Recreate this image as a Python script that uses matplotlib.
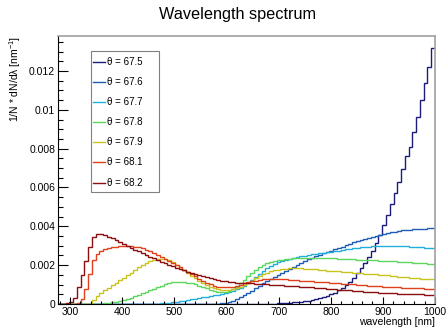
import numpy as np
import matplotlib
matplotlib.use("Agg")
import matplotlib.pyplot as plt
from matplotlib.lines import Line2D
from matplotlib.patches import Rectangle
from matplotlib.ticker import MultipleLocator

plt.rcParams['font.family'] = ['Liberation Sans', 'DejaVu Sans']
plt.rcParams['mathtext.fontset'] = 'custom'
plt.rcParams['mathtext.rm'] = 'Liberation Sans'
plt.rcParams['mathtext.it'] = 'Liberation Sans:italic'

# ---- data (values in units of 1e-3 nm^-1), 100 bins from 277 to 1000 nm ----
lam_min, lam_max, n_bins = 277.0, 1000.0, 100

labels = ["θ = 67.5", "θ = 67.6", "θ = 67.7", "θ = 67.8", "θ = 67.9", "θ = 68.1", "θ = 68.2"]

t675 = ([0.0] * 50 +
        [0, 0, 0.005, 0.01, 0.01, 0.015, 0.02, 0.025, 0.03, 0.04] +
        [0.05, 0.06, 0.08, 0.10, 0.12, 0.15, 0.18, 0.21, 0.25, 0.30] +
        [0.35, 0.42, 0.50, 0.58, 0.70, 0.84, 0.98, 1.12, 1.32, 1.58] +
        [1.85, 2.12, 2.42, 2.75, 3.12, 3.55, 4.05, 4.60, 5.15, 5.70] +
        [6.30, 6.95, 7.60, 8.10, 8.88, 9.65, 10.5, 11.4, 12.2, 13.2])

t676 = ([0.0] * 40 +
        [0, 0.01, 0.02, 0.04, 0.07, 0.11, 0.17, 0.25, 0.34, 0.44] +
        [0.55, 0.67, 0.80, 0.93, 1.06, 1.18, 1.30, 1.40, 1.50, 1.60] +
        [1.70, 1.80, 1.90, 2.00, 2.10, 2.20, 2.30, 2.38, 2.46, 2.54] +
        [2.61, 2.68, 2.75, 2.82, 2.89, 2.96, 3.03, 3.10, 3.17, 3.24] +
        [3.30, 3.36, 3.42, 3.47, 3.52, 3.57, 3.62, 3.66, 3.70, 3.73] +
        [3.76, 3.79, 3.81, 3.83, 3.85, 3.86, 3.87, 3.88, 3.89, 3.90])

t677 = ([0.0] * 20 +
        [0, 0, 0, 0, 0, 0, 0.02, 0.03, 0.05, 0.07] +
        [0.10, 0.12, 0.15, 0.18, 0.21, 0.24, 0.27, 0.31, 0.34, 0.38] +
        [0.41, 0.45, 0.48, 0.52, 0.57, 0.62, 0.68, 0.75, 0.84, 0.95] +
        [1.08, 1.22, 1.38, 1.55, 1.70, 1.84, 1.96, 2.06, 2.15, 2.22] +
        [2.28, 2.33, 2.38, 2.42, 2.46, 2.49, 2.52, 2.55, 2.58, 2.61] +
        [2.64, 2.66, 2.69, 2.72, 2.75, 2.78, 2.81, 2.84, 2.87, 2.90] +
        [2.92, 2.94, 2.96, 2.98, 2.99, 3.00, 3.01, 3.01, 3.01, 3.00] +
        [2.99, 2.98, 2.97, 2.96, 2.94, 2.93, 2.91, 2.90, 2.88, 2.87])

t678 = ([0.0] * 10 +
        [0.01, 0.02, 0.03, 0.05, 0.08, 0.12, 0.16, 0.21, 0.27, 0.33] +
        [0.40, 0.47, 0.55, 0.63, 0.71, 0.79, 0.87, 0.94, 1.01, 1.07] +
        [1.11, 1.13, 1.13, 1.12, 1.10, 1.06, 1.01, 0.95, 0.88, 0.81] +
        [0.74, 0.68, 0.64, 0.62, 0.63, 0.68, 0.77, 0.90, 1.06, 1.24] +
        [1.42, 1.60, 1.76, 1.90, 2.01, 2.10, 2.17, 2.22, 2.26, 2.29] +
        [2.32, 2.34, 2.36, 2.37, 2.38, 2.38, 2.38, 2.38, 2.38, 2.37] +
        [2.37, 2.36, 2.36, 2.35, 2.34, 2.33, 2.32, 2.31, 2.30, 2.29] +
        [2.28, 2.27, 2.26, 2.25, 2.24, 2.23, 2.22, 2.21, 2.20, 2.19] +
        [2.18, 2.16, 2.15, 2.14, 2.13, 2.12, 2.10, 2.09, 2.07, 2.06])

t679 = ([0, 0, 0, 0, 0, 0, 0, 0, 0.02, 0.22] +
        [0.40, 0.55, 0.70, 0.84, 0.97, 1.10, 1.23, 1.36, 1.49, 1.62] +
        [1.75, 1.88, 2.00, 2.10, 2.19, 2.27, 2.32, 2.34, 2.32, 2.26] +
        [2.14, 2.02, 1.88, 1.74, 1.60, 1.46, 1.32, 1.19, 1.07, 0.97] +
        [0.88, 0.81, 0.76, 0.73, 0.72, 0.73, 0.76, 0.82, 0.90, 1.00] +
        [1.10, 1.21, 1.32, 1.43, 1.53, 1.61, 1.68, 1.73, 1.77, 1.80] +
        [1.82, 1.83, 1.84, 1.84, 1.83, 1.82, 1.81, 1.80, 1.78, 1.76] +
        [1.74, 1.72, 1.70, 1.69, 1.68, 1.67, 1.65, 1.64, 1.62, 1.61] +
        [1.59, 1.57, 1.56, 1.54, 1.52, 1.51, 1.49, 1.47, 1.45, 1.43] +
        [1.41, 1.39, 1.37, 1.35, 1.34, 1.32, 1.31, 1.30, 1.29, 1.28])

t681 = ([0, 0, 0, 0, 0, 0.03, 0.25, 0.75, 1.55, 2.25] +
        [2.60, 2.75, 2.84, 2.89, 2.93, 2.96, 2.98, 3.00, 3.00, 2.99] +
        [2.96, 2.92, 2.87, 2.80, 2.72, 2.63, 2.53, 2.43, 2.33, 2.23] +
        [2.12, 2.01, 1.89, 1.77, 1.65, 1.53, 1.42, 1.31, 1.20, 1.10] +
        [1.01, 0.94, 0.89, 0.86, 0.85, 0.86, 0.89, 0.94, 1.00, 1.06] +
        [1.12, 1.17, 1.21, 1.24, 1.27, 1.28, 1.29, 1.29, 1.29, 1.28] +
        [1.27, 1.26, 1.24, 1.23, 1.21, 1.20, 1.18, 1.17, 1.15, 1.14] +
        [1.12, 1.11, 1.10, 1.08, 1.07, 1.05, 1.04, 1.02, 1.01, 0.99] +
        [0.98, 0.96, 0.95, 0.93, 0.92, 0.91, 0.89, 0.88, 0.87, 0.86] +
        [0.85, 0.84, 0.83, 0.82, 0.81, 0.80, 0.80, 0.79, 0.78, 0.78])

t682 = ([0, 0.02, 0.04, 0.08, 0.30, 0.90, 1.50, 2.20, 2.95, 3.45] +
        [3.60, 3.60, 3.55, 3.47, 3.38, 3.28, 3.18, 3.08, 2.98, 2.89] +
        [2.80, 2.71, 2.62, 2.53, 2.44, 2.35, 2.26, 2.17, 2.09, 2.01] +
        [1.94, 1.87, 1.80, 1.73, 1.67, 1.61, 1.55, 1.49, 1.43, 1.38] +
        [1.33, 1.28, 1.24, 1.20, 1.17, 1.14, 1.12, 1.10, 1.09, 1.08] +
        [1.07, 1.06, 1.05, 1.04, 1.03, 1.01, 1.00, 0.99, 0.98, 0.96] +
        [0.95, 0.94, 0.92, 0.91, 0.89, 0.88, 0.86, 0.85, 0.83, 0.82] +
        [0.80, 0.79, 0.77, 0.76, 0.74, 0.73, 0.71, 0.70, 0.68, 0.67] +
        [0.65, 0.64, 0.63, 0.61, 0.60, 0.59, 0.58, 0.57, 0.56, 0.55] +
        [0.54, 0.53, 0.52, 0.51, 0.50, 0.49, 0.49, 0.48, 0.47, 0.46])

series = [t675, t676, t677, t678, t679, t681, t682]
colors = ["#1c1c7c", "#1f5cb8", "#22aedc", "#5cd65c", "#c8c31e", "#e0401a", "#8c0e0e"]

# ---- figure ----
W, H = 447, 328
fig = plt.figure(figsize=(W / 100, H / 100), dpi=100)
L, R, T, B = 58, 435, 36, 304
ax = fig.add_axes([L / W, (H - B) / H, (R - L) / W, (B - T) / H])

edges = np.linspace(lam_min, lam_max, n_bins + 1)
for vals, c in zip(series, colors):
    ax.stairs(np.array(vals) * 1e-3, edges, color=c, lw=1.0, baseline=None)

ax.set_xlim(lam_min, lam_max)
ax.set_ylim(0, 0.0138)

ax.xaxis.set_major_locator(MultipleLocator(100))
ax.xaxis.set_minor_locator(MultipleLocator(20))
ax.yaxis.set_major_locator(MultipleLocator(0.002))
ax.yaxis.set_minor_locator(MultipleLocator(0.0005))
ax.yaxis.set_major_formatter(matplotlib.ticker.FuncFormatter(
    lambda v, p: "0" if abs(v) < 1e-12 else ("%.3f" % v).rstrip("0")))

ax.tick_params(axis='both', which='both', direction='in', labelsize=7.5,
               top=False, right=False, colors='black')
ax.tick_params(axis='y', which='major', length=7, width=0.8, pad=2)
ax.tick_params(axis='y', which='minor', length=3.5, width=0.8)
ax.tick_params(axis='x', which='major', length=5, width=0.8, pad=2)
ax.tick_params(axis='x', which='minor', length=2.5, width=0.8)

for s in ['left', 'bottom']:
    ax.spines[s].set_color('black')
    ax.spines[s].set_linewidth(0.8)
for s in ['top', 'right']:
    ax.spines[s].set_color('#a0a0a0')
    ax.spines[s].set_linewidth(1.2)

# titles
fig.text(238 / W, 1 - 15 / H, "Wavelength spectrum", ha='center', va='center', fontsize=11.7)
fig.text(435 / W, 1 - 322 / H, "wavelength [nm]", ha='right', va='center', fontsize=7.5)
fig.text(15 / W, 1 - 36 / H, "1/N * dN/dλ [nm$^{-1}$]", ha='center', va='top',
         rotation=90, fontsize=7.5)

# legend drawn manually
lx0, lx1, ly0, ly1 = 91, 159, 51, 192
fig.patches.append(Rectangle((lx0 / W, 1 - ly1 / H), (lx1 - lx0) / W, (ly1 - ly0) / H,
                             transform=fig.transFigure, facecolor='white',
                             edgecolor='#808080', lw=0.8, zorder=5))
ys = [61.7 + 20.15 * i for i in range(len(labels))]
for yy, lab, c in zip(ys, labels, colors):
    fig.lines.append(Line2D([93.3 / W, 105 / W], [1 - yy / H, 1 - yy / H],
                            transform=fig.transFigure, color=c, lw=1.0, zorder=6))
    fig.text(106.7 / W, 1 - yy / H, lab, ha='left', va='center', fontsize=7, zorder=6)

fig.savefig("out.png", dpi=100)
